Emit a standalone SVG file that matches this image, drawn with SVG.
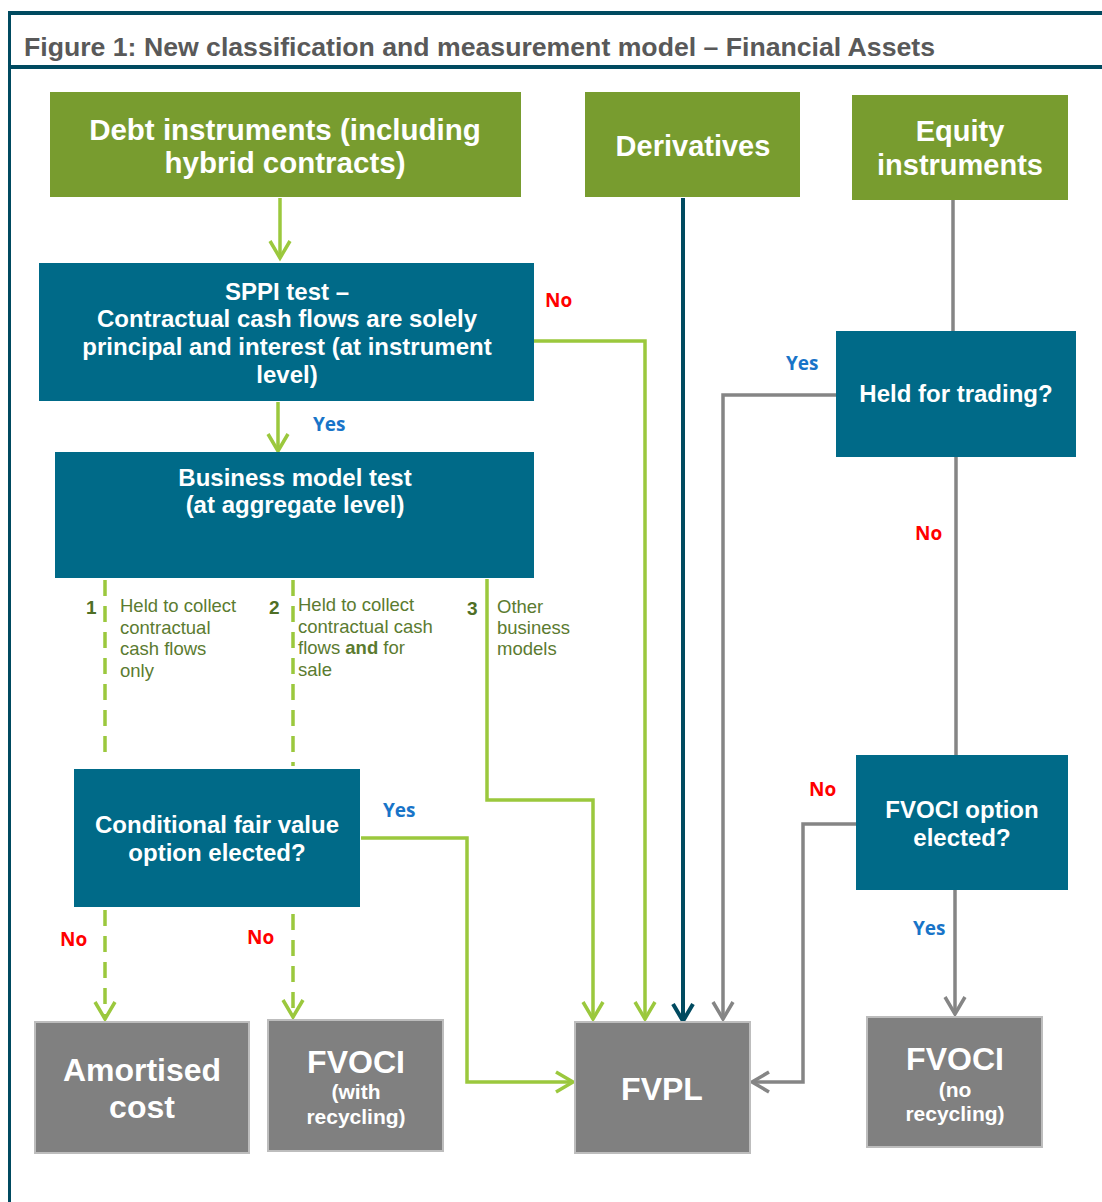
<svg xmlns="http://www.w3.org/2000/svg" width="1102" height="1202" viewBox="0 0 1102 1202">
<defs>
<style>
.t{font-family:"Liberation Sans",Arial,sans-serif;font-weight:bold;fill:#fff;text-anchor:middle}
.green{fill:#789c2f}
.teal{fill:#006a88}
.gray{fill:#808080;stroke:#bdbdbd;stroke-width:2}
.lg{fill:none;stroke:#9bc83d;stroke-width:3.5}
.dash{stroke-dasharray:16,10}
.ld{fill:none;stroke:#004a60;stroke-width:4}
.lr{fill:none;stroke:#858585;stroke-width:3.5}
.yes{font-family:"Open Sans","Liberation Sans",sans-serif;font-weight:bold;font-size:19px;fill:#1874c8}
.no{font-family:"Open Sans","Liberation Sans",sans-serif;font-weight:bold;font-size:19px;fill:#ff0000}
.num{font-family:"Liberation Sans",Arial,sans-serif;font-weight:bold;font-size:19px;fill:#4f6f25}
.bm{font-family:"Liberation Sans",Arial,sans-serif;font-size:18.5px;fill:#5b7b30}
</style>
<marker id="ag" viewBox="-20 -13 24 26" refX="0" refY="0" markerWidth="24" markerHeight="26" markerUnits="userSpaceOnUse" orient="auto"><path d="M-17,-10 L0,0 L-17,10" fill="none" stroke="#9bc83d" stroke-width="3.5"/></marker>
<marker id="ad" viewBox="-20 -13 24 26" refX="0" refY="0" markerWidth="24" markerHeight="26" markerUnits="userSpaceOnUse" orient="auto"><path d="M-17,-10 L0,0 L-17,10" fill="none" stroke="#004a60" stroke-width="4"/></marker>
<marker id="ar" viewBox="-20 -13 24 26" refX="0" refY="0" markerWidth="24" markerHeight="26" markerUnits="userSpaceOnUse" orient="auto"><path d="M-17,-10 L0,0 L-17,10" fill="none" stroke="#858585" stroke-width="3.5"/></marker>
</defs>
<rect width="1102" height="1202" fill="#fff"/>
<g id="frame">
<rect x="8" y="11" width="1094" height="4" fill="#004a60"/>
<rect x="8" y="65" width="1094" height="4" fill="#004a60"/>
<rect x="8" y="11" width="3" height="1191" fill="#004a60"/>
<text x="24" y="56" font-family="'Liberation Sans',Arial,sans-serif" font-weight="bold" font-size="26" fill="#595959" textLength="911" lengthAdjust="spacingAndGlyphs">Figure 1: New classification and measurement model – Financial Assets</text>
</g>
<g id="connectors">
<path class="lg" d="M280,198 V258" marker-end="url(#ag)"/>
<path class="lg" d="M534,341 H645 V1019" marker-end="url(#ag)"/>
<path class="lg" d="M278,402 V451" marker-end="url(#ag)"/>
<path class="lg dash" d="M105,580 V762"/>
<path class="lg dash" d="M293,580 V766"/>
<path class="lg" d="M487,579 V800 H593 V1019" marker-end="url(#ag)"/>
<path class="lg" d="M361,838 H467 V1082 H573" marker-end="url(#ag)"/>
<path class="lg dash" d="M105,910 V1019" marker-end="url(#ag)"/>
<path class="lg dash" d="M293,914 V1017" marker-end="url(#ag)"/>
<path class="ld" d="M683,198 V1021" marker-end="url(#ad)"/>
<path class="lr" d="M953,200 V331"/>
<path class="lr" d="M836,395 H723 V1019" marker-end="url(#ar)"/>
<path class="lr" d="M956,457 V755"/>
<path class="lr" d="M856,824 H803 V1082 H752" marker-end="url(#ar)"/>
<path class="lr" d="M955,890 V1014" marker-end="url(#ar)"/>
<text class="no" x="545" y="307">No</text>
<text class="yes" x="313" y="431">Yes</text>
<text class="yes" x="383" y="817">Yes</text>
<text class="no" x="60" y="946">No</text>
<text class="no" x="247" y="944">No</text>
<text class="yes" x="786" y="370">Yes</text>
<text class="no" x="915" y="540">No</text>
<text class="no" x="809" y="796">No</text>
<text class="yes" x="913" y="935">Yes</text>
<text class="num" x="86" y="614">1</text>
<text class="num" x="269" y="614">2</text>
<text class="num" x="467" y="615">3</text>
<text class="bm" x="120" y="612">Held to collect</text>
<text class="bm" x="120" y="634">contractual</text>
<text class="bm" x="120" y="655">cash flows</text>
<text class="bm" x="120" y="677">only</text>
<text class="bm" x="298" y="611">Held to collect</text>
<text class="bm" x="298" y="633">contractual cash</text>
<text class="bm" x="298" y="654">flows <tspan font-weight="bold">and</tspan> for</text>
<text class="bm" x="298" y="676">sale</text>
<text class="bm" x="497" y="613">Other</text>
<text class="bm" x="497" y="634">business</text>
<text class="bm" x="497" y="655">models</text>
</g>
<g id="debt">
<rect class="green" x="50" y="92" width="471" height="105"/>
<text class="t" font-size="29.5" x="285" y="140">Debt instruments (including</text>
<text class="t" font-size="29.5" x="285" y="173">hybrid contracts)</text>
</g>
<g id="derivatives">
<rect class="green" x="585" y="92" width="215" height="105"/>
<text class="t" font-size="29" x="693" y="156">Derivatives</text>
</g>
<g id="equity">
<rect class="green" x="852" y="95" width="216" height="105"/>
<text class="t" font-size="29" x="960" y="141">Equity</text>
<text class="t" font-size="29" x="960" y="175">instruments</text>
</g>
<g id="sppi">
<rect class="teal" x="39" y="263" width="495" height="138"/>
<text class="t" font-size="24" x="287" y="300">SPPI test –</text>
<text class="t" font-size="24" x="287" y="327">Contractual cash flows are solely</text>
<text class="t" font-size="24" x="287" y="355">principal and interest (at instrument</text>
<text class="t" font-size="24" x="287" y="383">level)</text>
</g>
<g id="business">
<rect class="teal" x="55" y="452" width="479" height="126"/>
<text class="t" font-size="24" x="295" y="486">Business model test</text>
<text class="t" font-size="24" x="295" y="513">(at aggregate level)</text>
</g>
<g id="conditional">
<rect class="teal" x="74" y="769" width="286" height="138"/>
<text class="t" font-size="24" x="217" y="833">Conditional fair value</text>
<text class="t" font-size="24" x="217" y="861">option elected?</text>
</g>
<g id="held">
<rect class="teal" x="836" y="331" width="240" height="126"/>
<text class="t" font-size="24" x="956" y="402">Held for trading?</text>
</g>
<g id="fvociopt">
<rect class="teal" x="856" y="755" width="212" height="135"/>
<text class="t" font-size="24" x="962" y="818">FVOCI option</text>
<text class="t" font-size="24" x="962" y="846">elected?</text>
</g>
<g id="amortised">
<rect class="gray" x="35" y="1022" width="214" height="131"/>
<text class="t" font-size="32" x="142" y="1081">Amortised</text>
<text class="t" font-size="32" x="142" y="1118">cost</text>
</g>
<g id="fvoci-with">
<rect class="gray" x="268" y="1020" width="175" height="131"/>
<text class="t" font-size="32" x="356" y="1073">FVOCI</text>
<text class="t" font-size="21" x="356" y="1099">(with</text>
<text class="t" font-size="21" x="356" y="1124">recycling)</text>
</g>
<g id="fvpl">
<rect class="gray" x="575" y="1022" width="175" height="131"/>
<text class="t" font-size="32" x="662" y="1100">FVPL</text>
</g>
<g id="fvoci-no">
<rect class="gray" x="867" y="1017" width="175" height="130"/>
<text class="t" font-size="32" x="955" y="1070">FVOCI</text>
<text class="t" font-size="21" x="955" y="1097">(no</text>
<text class="t" font-size="21" x="955" y="1121">recycling)</text>
</g>
</svg>
